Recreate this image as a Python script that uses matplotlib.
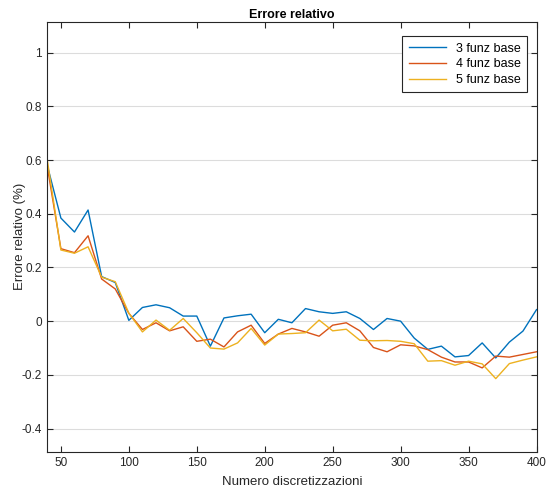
import numpy as np
import matplotlib
matplotlib.use("Agg")
import matplotlib.pyplot as plt

plt.rcParams['font.family'] = ['Liberation Sans', 'DejaVu Sans']

# Data
n_discr = np.arange(40, 401, 10)
err_3 = [0.58, 0.384, 0.332, 0.414, 0.166, 0.144, 0.003, 0.051, 0.061, 0.05,
         0.019, 0.019, -0.093, 0.012, 0.02, 0.026, -0.043, 0.007, -0.006,
         0.047, 0.035, 0.029, 0.035, 0.01, -0.031, 0.01, 0.0, -0.063, -0.105,
         -0.093, -0.133, -0.128, -0.081, -0.137, -0.078, -0.037, 0.043]
err_4 = [0.575, 0.27, 0.255, 0.318, 0.157, 0.12, 0.029, -0.031, -0.006,
         -0.036, -0.021, -0.075, -0.067, -0.096, -0.04, -0.015, -0.083,
         -0.048, -0.027, -0.04, -0.056, -0.015, -0.006, -0.036, -0.098,
         -0.114, -0.088, -0.092, -0.106, -0.134, -0.152, -0.152, -0.174,
         -0.13, -0.134, -0.124, -0.114]
err_5 = [0.6, 0.265, 0.253, 0.277, 0.164, 0.147, 0.03, -0.04, 0.004, -0.034,
         0.01, -0.043, -0.1, -0.104, -0.081, -0.027, -0.089, -0.048, -0.046,
         -0.043, 0.004, -0.036, -0.03, -0.071, -0.073, -0.072, -0.075, -0.084,
         -0.149, -0.147, -0.164, -0.149, -0.159, -0.214, -0.158, -0.145,
         -0.133]
labels = ["3 funz base", "4 funz base", "5 funz base"]
colors = ["#0072BD", "#D95319", "#EDB120"]

fig = plt.figure(figsize=(5.5, 4.95), dpi=100)
ax = fig.add_axes([0.086, 0.087, 0.8895, 0.869])

for y, lab, c in zip([err_3, err_4, err_5], labels, colors):
    ax.plot(n_discr, y, color=c, linewidth=1.0, label=lab)

ax.set_xlim(40, 400)
ax.set_ylim(-0.487, 1.115)
ax.set_xticks(np.arange(50, 401, 50))
ax.set_yticks(np.arange(-0.4, 1.01, 0.2))
ax.set_yticklabels(["-0.4", "-0.2", "0", "0.2", "0.4", "0.6", "0.8", "1"])
ax.yaxis.grid(True, color="#dcdcdc", linewidth=0.8)
ax.set_axisbelow(True)
ax.tick_params(direction="in", length=4, width=0.8, top=True, right=True,
               labelsize=8.5, colors="#262626", pad=4)
for s in ax.spines.values():
    s.set_color("#262626")
    s.set_linewidth(0.8)

ax.set_title("Errore relativo", fontsize=9, fontweight="bold", pad=3)
ax.set_xlabel("Numero discretizzazioni", fontsize=9.5, color="#262626",
              labelpad=5)
ax.set_ylabel("Errore relativo (%)", fontsize=9.5, color="#262626",
              labelpad=-3)

leg = ax.legend(loc="upper right", bbox_to_anchor=(0.981, 0.966),
                borderaxespad=0, fontsize=9, fancybox=False, framealpha=1,
                edgecolor="#262626", handlelength=3.0, borderpad=0.5,
                labelspacing=0.3)
leg.get_frame().set_linewidth(0.8)

fig.savefig("out.png", dpi=100)
